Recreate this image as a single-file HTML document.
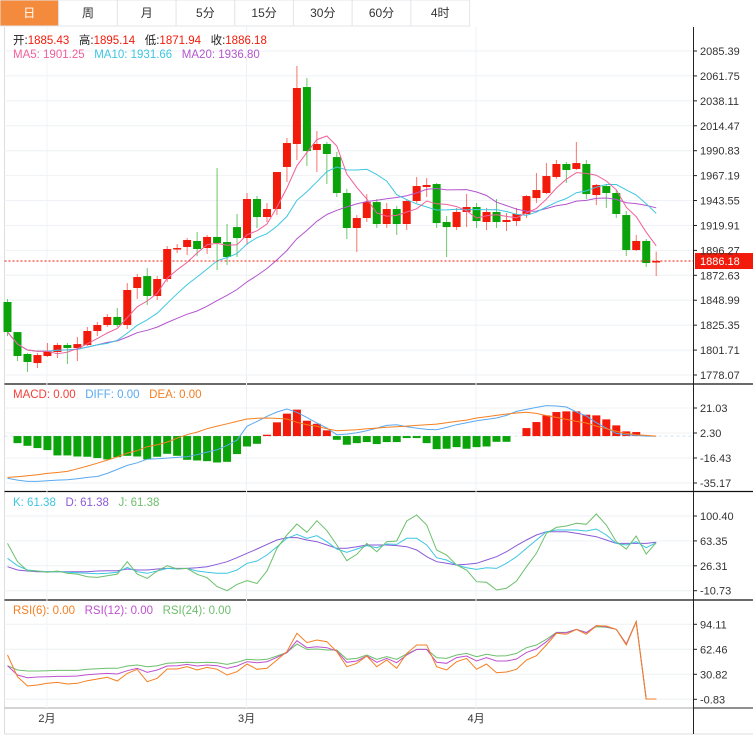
<!DOCTYPE html>
<html><head><meta charset="utf-8">
<style>
html,body{margin:0;padding:0;background:#fff;}
body{width:753px;height:741px;overflow:hidden;font-family:"Liberation Sans","Noto Sans CJK SC",sans-serif;}
svg text{font-family:"Liberation Sans","Noto Sans CJK SC",sans-serif;}
</style></head>
<body>
<svg id="chart" width="753" height="741" xmlns="http://www.w3.org/2000/svg">
<g id="tabs"></g>
<g id="grid"></g>
<g id="marks"></g>
<g id="labels"></g>
</svg>
<script>
const tabLabels=["日","周","月","5分","15分","30分","60分","4时"];
const opens=[1847.3,1818.8,1798.0,1789.4,1796.1,1799.9,1806.5,1803.7,1806.5,1819.8,1825.5,1833.1,1825.5,1860.6,1871.9,1853.0,1869.1,1898.0,1899.5,1905.2,1898.5,1909.0,1904.2,1918.4,1908.0,1945.0,1927.9,1935.5,1975.4,1997.2,2051.2,1991.5,1997.2,1984.8,1950.7,1917.5,1927.0,1942.1,1921.3,1935.5,1921.3,1943.1,1956.4,1959.2,1923.2,1918.4,1932.7,1937.4,1923.2,1932.7,1923.2,1924.1,1930.8,1945.9,1950.7,1965.9,1978.2,1973.5,1978.2,1948.8,1957.3,1950.7,1929.8,1896.6,1905.2,1885.43];
const highs=[1850.2,1818.8,1798.9,1798.9,1808.4,1808.4,1808.4,1814.1,1823.6,1828.3,1835.9,1841.6,1865.3,1873.8,1879.5,1871.9,1900.4,1902.3,1908.0,1913.7,1910.9,1974.4,1921.3,1930.8,1950.7,1947.8,1941.2,1970.6,2002.9,2071.2,2059.8,2009.5,1999.1,1989.6,1954.5,1929.8,1949.7,1945.0,1941.2,1938.4,1945.0,1965.9,1964.9,1960.2,1928.9,1936.5,1949.7,1941.2,1936.5,1945.0,1931.7,1936.5,1948.8,1969.7,1979.1,1982.0,1980.1,1999.1,1982.0,1959.2,1959.2,1953.5,1933.6,1910.9,1907.1,1895.14];
const lows=[1815.0,1791.3,1780.9,1784.7,1795.1,1794.2,1788.5,1791.3,1805.6,1815.0,1823.6,1823.6,1821.7,1850.2,1844.4,1849.2,1866.3,1893.8,1891.9,1890.9,1892.8,1877.6,1882.4,1890.0,1901.4,1917.5,1923.2,1929.8,1961.1,1982.0,1976.3,1970.6,1959.2,1946.9,1907.1,1894.7,1923.2,1917.5,1917.5,1910.9,1915.6,1941.2,1946.9,1917.5,1890.0,1915.6,1918.4,1917.5,1915.6,1917.5,1914.6,1919.4,1927.0,1941.2,1949.7,1964.0,1960.2,1972.5,1945.0,1939.3,1936.5,1927.0,1890.9,1895.7,1880.5,1871.94];
const closes=[1818.8,1796.1,1790.4,1797.0,1800.8,1806.5,1803.7,1807.4,1819.8,1825.5,1833.1,1825.5,1858.7,1871.0,1853.0,1869.1,1897.6,1898.5,1906.1,1897.6,1909.0,1903.3,1890.0,1908.0,1945.0,1927.9,1935.5,1970.6,1998.1,2050.3,1990.5,1997.2,1987.7,1950.7,1917.5,1927.0,1942.1,1921.3,1935.5,1921.3,1943.1,1957.3,1958.3,1922.2,1918.4,1932.7,1937.4,1924.1,1932.7,1923.2,1925.1,1930.8,1947.8,1953.5,1966.8,1978.2,1972.5,1979.1,1949.7,1958.3,1950.7,1930.8,1896.6,1905.2,1884.3,1886.18];
const macdHist=[0,-5.3,-7.3,-9,-10.5,-14.5,-14.5,-15.3,-15.5,-16.5,-17.5,-15.8,-14.8,-15.3,-17.5,-15.5,-13.3,-14.8,-17.8,-18.3,-18.8,-19.8,-19.3,-13.5,-7.8,-5.8,1,10.3,16.8,19.8,11.5,9.2,4.3,-2.8,-6.5,-5.3,-4.5,-6,-4.5,-4.5,-1.5,-1.5,-5.3,-9.8,-9.5,-8.3,-9.5,-8.3,-7.8,-4.3,-4.3,0,6,10.5,15.5,18,18.5,18.5,16,15.5,12.5,8,3.5,3,0,0];
const difVals=[-31.6,-33,-34,-34,-33.5,-33,-32.8,-32,-31,-30.3,-28,-25,-22,-20,-17.3,-17,-16.5,-16,-15.5,-14,-12,-10.3,-7,-3,7.3,11,14.8,18,20.3,17.8,14,9.8,6,1,1.5,2.5,4,6,8,8.5,7,6,5,4.8,6.5,8.5,10,11.5,12.5,13.5,15.5,18.5,20,21.5,22.8,22.5,21.8,18,15,10,6,2,1,0.5,0,0];
const deaVals=[-31,-30.5,-29.8,-29,-28,-27.3,-26.5,-24.5,-22.5,-20.3,-18,-15.5,-12.8,-11,-8,-6.5,-4.5,-1.5,1,3,5.5,7.5,9.2,11,12.8,13.3,13.5,13.2,12.8,10.3,8.5,7.3,5.5,4,4.3,4.8,5.5,6,6.6,7,7.5,8,8.5,9,10,11,12,13.5,14.5,15.5,16.5,17.3,17.8,17,15.3,14,12.5,11,9.8,7.5,5.5,3.5,2,1,0.5,0];
const kVals=[37.4,26.5,20,18.6,17.6,17.6,16.6,16.1,15.1,14.6,15.1,16.6,24,17.6,15.1,18.6,22.5,21.5,22.5,18.6,16.6,15.1,15.1,20,30,33.4,42.4,54.8,67.2,73.1,67.2,71.1,62.2,51.3,46.3,51.3,56.3,53.3,58.7,58.2,67.2,67.2,57.2,38.4,34.9,27.5,23.5,21,23.5,22.5,30,39.9,52.3,64.7,77.1,79.6,79.6,79.6,78.1,81.1,72.1,59.7,57.2,62.2,53.3,60.7];
const dVals=[25,20,18.6,17.6,17.6,17.6,17.6,17.6,17.6,18.6,19,19,21.5,20,20,21.5,22.5,22.5,22.5,23.5,25,28.5,32.4,38.4,44.9,51.3,58.2,64.7,68.2,68.2,64.7,62.2,57.2,52.3,52.3,54.8,57.2,57.2,57.2,56.3,54.8,49.8,39.9,32.4,30,27.5,28.5,30,34.9,39.9,47.3,56.3,64.7,72.1,77.1,77.1,77.1,74.6,72.1,69.6,64.7,59.7,59.7,59.7,59.7,61.2];
const jVals=[59.7,32.4,19,18.6,16.6,18.6,15.1,14,10.1,9.1,11.6,14,32.4,14,7.6,18.6,26.5,21.5,22.5,13.6,8.6,-4.7,-10.7,-1.3,4.2,0.2,18.6,52.3,72.1,88.5,76.1,93.4,78.6,57.2,33.9,43.4,59.7,47.3,62.2,63.2,93,101.9,87,49.8,42.4,27.5,20,2.7,1.7,-9.7,-7.2,3.7,25,44.9,74.6,83.5,85.5,89.5,88,103.4,87,62.2,51.3,70.6,43.9,60.7];
const rsi6=[55.2,27.8,16,17.3,19.4,20.6,18.5,19.4,22.7,24.9,27,22.3,32,37.1,21.5,25.7,37.5,37.5,40.5,36.3,39.6,37.1,29.9,34.1,43.9,37.1,38.4,48.9,59.5,82.7,70.9,74.2,72.1,59.5,40.5,44.7,54,40.5,48.9,38.4,57.3,67.9,67.9,40.5,36.3,46.8,51,37.1,43.9,32.9,33.7,37.1,48.9,54.4,67.9,82.7,81.4,87.7,81.4,92.4,92,87.7,67.9,97.4,-0.5,-0.5];
const rsi12=[41.7,29.9,26.5,27.4,27.8,28.2,28.2,28.7,30.3,31.2,32,31.2,35.4,38.4,33.3,36.3,41.3,41.7,43.4,41.3,42.6,41.7,38.4,41.3,46.8,45.5,46.8,52.3,58.2,73.4,64.5,65.8,64.5,60.3,46,47.6,54,46,51,45.5,55.2,62.4,62.4,46,44.7,51.9,54,47.6,51.9,47.6,47.6,50.2,58.6,62.8,72.1,83.5,83.5,87.7,83.5,92.4,91.1,87.7,69.2,97.4,-0.5,-0.5];
const rsi24=[41.7,36.3,35,35,35.4,35.8,35.8,35.8,37.1,37.9,38.4,38.4,41.3,42.6,40.5,41.7,44.7,45.5,46,45.5,46,45.5,43.4,46,49.8,48.9,49.8,54,58.6,69.2,62.4,62.8,61.6,61.6,49.8,51,55.2,49.8,53.1,49.8,56.5,62.4,62.4,51.9,51,55.2,57.3,53.1,56.1,54,54.4,57.3,64.5,67.9,75.1,83.9,83.9,87.7,83.9,91.1,90.3,87.7,69.2,97.4,-0.5,-0.5];
const priceTicks=["2085.39","2061.75","2038.11","2014.47","1990.83","1967.19","1943.55","1919.91","1896.27","1872.63","1848.99","1825.35","1801.71","1778.07"];
const macdTicks=["21.03","2.30","-16.43","-35.17"];
const kdjTicks=["100.40","63.35","26.31","-10.73"];
const rsiTicks=["94.11","62.46","30.82","-0.83"];
const monthLabels=["2月","3月","4月"];
const monthIdx=[4,24,47];

const NS="http://www.w3.org/2000/svg";
function el(tag,attrs,parent,txt){const e=document.createElementNS(NS,tag);for(const k in attrs)e.setAttribute(k,attrs[k]);if(txt!==undefined)e.textContent=txt;parent.appendChild(e);return e;}
const G=document.getElementById('grid'),M=document.getElementById('marks'),L=document.getElementById('labels'),T=document.getElementById('tabs');
const RED="#f21a0a",GREEN="#0aa30a";
const X0=7.5,DX=9.98,RX=693;
const xs=i=>X0+DX*i;
// linear scales
function lin(v0,y0,v1,y1){return v=>y0+(v-v0)*(y1-y0)/(v1-v0);}
const yP=lin(2085.39,51,1778.07,375);
const yM=lin(21.03,408,-35.17,483);
const yK=lin(100.40,516,-10.73,590.7);
const yR=lin(94.11,624.3,-0.83,699.3);

// tabs
tabLabels.forEach((t,i)=>{
  const x=i*58.7;
  const r=el('rect',{x:x,y:0,width:58.7,height:26,fill:i===0?"#f38a3c":"#fff",stroke:"#e3e6ea","stroke-width":1},T);
  
  
  const tx=el('text',{x:x+29.3,y:17,"text-anchor":"middle","font-size":12,fill:i===0?"#fff":"#333"},T,t);
  
  
});

// frame
el('line',{x1:4.5,y1:27,x2:4.5,y2:734,stroke:"#ddd"},G);
el('line',{x1:4.5,y1:734,x2:753,y2:734,stroke:"#ddd"},G);
// pane separators
[384,491.5,600].forEach(y=>el('line',{x1:4.5,y1:y,x2:753,y2:y,stroke:"#111","stroke-width":1.2},G));
el('line',{x1:4.5,y1:708,x2:RX,y2:708,stroke:"#aaa"},G);
el('line',{x1:RX+0.5,y1:27,x2:RX+0.5,y2:734,stroke:"#222"},G);
el('line',{x1:RX,y1:708,x2:753,y2:708,stroke:"#222"},G);
// month grid
monthIdx.forEach((ix,k)=>{
  const x=xs(ix)-0.5;
  el('line',{x1:x,y1:27,x2:x,y2:708,stroke:"#eef2f6"},G);
  const t=el('text',{x:x,y:722,"text-anchor":"middle","font-size":11,fill:"#333"},L,monthLabels[k]);
  
  
});
function ticks(arr,scale,name){
  arr.forEach(s=>{const v=parseFloat(s),y=scale(v);
    el('line',{x1:4.5,y1:y,x2:RX,y2:y,stroke:"#eef2f6"},G);
    el('line',{x1:RX,y1:y,x2:RX+4,y2:y,stroke:"#222"},G);
    const t=el('text',{x:RX+7,y:y+4,"font-size":11,fill:"#333"},L,s);
    
    
  });
}
ticks(priceTicks,yP,'price-tick');ticks(macdTicks,yM,'macd-tick');ticks(kdjTicks,yK,'kdj-tick');ticks(rsiTicks,yR,'rsi-tick');

// candles
closes.forEach((c,i)=>{
  const o=opens[i],x=xs(i),up=c>=o,col=up?RED:GREEN;
  const w=el('line',{x1:x,y1:yP(highs[i]),x2:x,y2:yP(lows[i]),stroke:col,"stroke-width":1,opacity:0.6},M);
  
  
  const t=yP(Math.max(o,c)),b=yP(Math.min(o,c));
  const r=el('rect',{x:x-4,y:t,width:8,height:Math.max(1.5,b-t),fill:col},M);
  
  
});
// MAs
function ma(n){return closes.map((c,i)=>{const s=closes.slice(Math.max(0,i-n+1),i+1);return s.reduce((a,b)=>a+b,0)/s.length;});}
function line(vals,scale,color,name){
  const p=vals.map((v,i)=>xs(i).toFixed(1)+","+scale(v).toFixed(1)).join(" ");
  const e=el('polyline',{points:p,fill:"none",stroke:color,"stroke-width":1},M);
  
  
}
line(ma(20),yP,"#b455d0",'ma20-line');
line(ma(10),yP,"#3ec6e0",'ma10-line');
line(ma(5),yP,"#f0609a",'ma5-line');
// last price
const lp=closes[closes.length-1],ly=yP(lp);
el('line',{x1:4.5,y1:ly,x2:RX,y2:ly,stroke:RED,"stroke-dasharray":"2,2"},M);
const lb=el('rect',{x:RX+2,y:ly-8,width:58,height:16,fill:RED},M);


el('text',{x:RX+7,y:ly+4,"font-size":11,fill:"#fff"},L,lp.toFixed(2));

// MACD
const z=yM(0);
el('line',{x1:4.5,y1:z,x2:RX,y2:z,stroke:"#cfe3f2","stroke-dasharray":"3,3"},M);
macdHist.forEach((v,i)=>{
  if(v===0)return;
  const y=yM(v),r=el('rect',{x:xs(i)-4,y:Math.min(y,z),width:8,height:Math.abs(y-z),fill:v>0?RED:GREEN},M);
  
  
});
line(difVals,yM,"#5aa9f0",'dif-line');
line(deaVals,yM,"#f57f20",'dea-line');
// KDJ
line(dVals,yK,"#8a5ad8",'kdj-d-line');
line(kVals,yK,"#3ec6e0",'kdj-k-line');
line(jVals,yK,"#6cbf6c",'kdj-j-line');
// RSI
line(rsi24,yR,"#6cbf6c",'rsi24-line');
line(rsi12,yR,"#c050d0",'rsi12-line');
line(rsi6,yR,"#f57f20",'rsi6-line');

// headers
function hdr(y,parts,name){
  const t=el('text',{x:13,y:y,"font-size":11.5},L);
  
  
  parts.forEach(p=>{const s=el('tspan',{fill:p[1]},t,p[0]);});
}
hdr(44,[["开:","#222"],["1885.43   ",RED],["高:","#222"],["1895.14   ",RED],["低:","#222"],["1871.94   ",RED],["收:","#222"],["1886.18",RED]],'ohlc-legend');
hdr(58,[["MA5: 1901.25   ","#f0609a"],["MA10: 1931.66   ","#3ec6e0"],["MA20: 1936.80","#b455d0"]],'ma-legend');
hdr(398,[["MACD: 0.00   ","#f2403a"],["DIFF: 0.00   ","#5aa9f0"],["DEA: 0.00","#f57f20"]],'macd-legend');
hdr(506,[["K: 61.38   ","#3ec6e0"],["D: 61.38   ","#8a5ad8"],["J: 61.38","#6cbf6c"]],'kdj-legend');
hdr(614,[["RSI(6): 0.00   ","#f57f20"],["RSI(12): 0.00   ","#c050d0"],["RSI(24): 0.00","#6cbf6c"]],'rsi-legend');
document.querySelectorAll('#labels text').forEach(t=>t.setAttribute('xml:space','preserve'));
document.querySelectorAll('#labels text').forEach(t=>t.style.whiteSpace='pre');
</script>
</body></html>
